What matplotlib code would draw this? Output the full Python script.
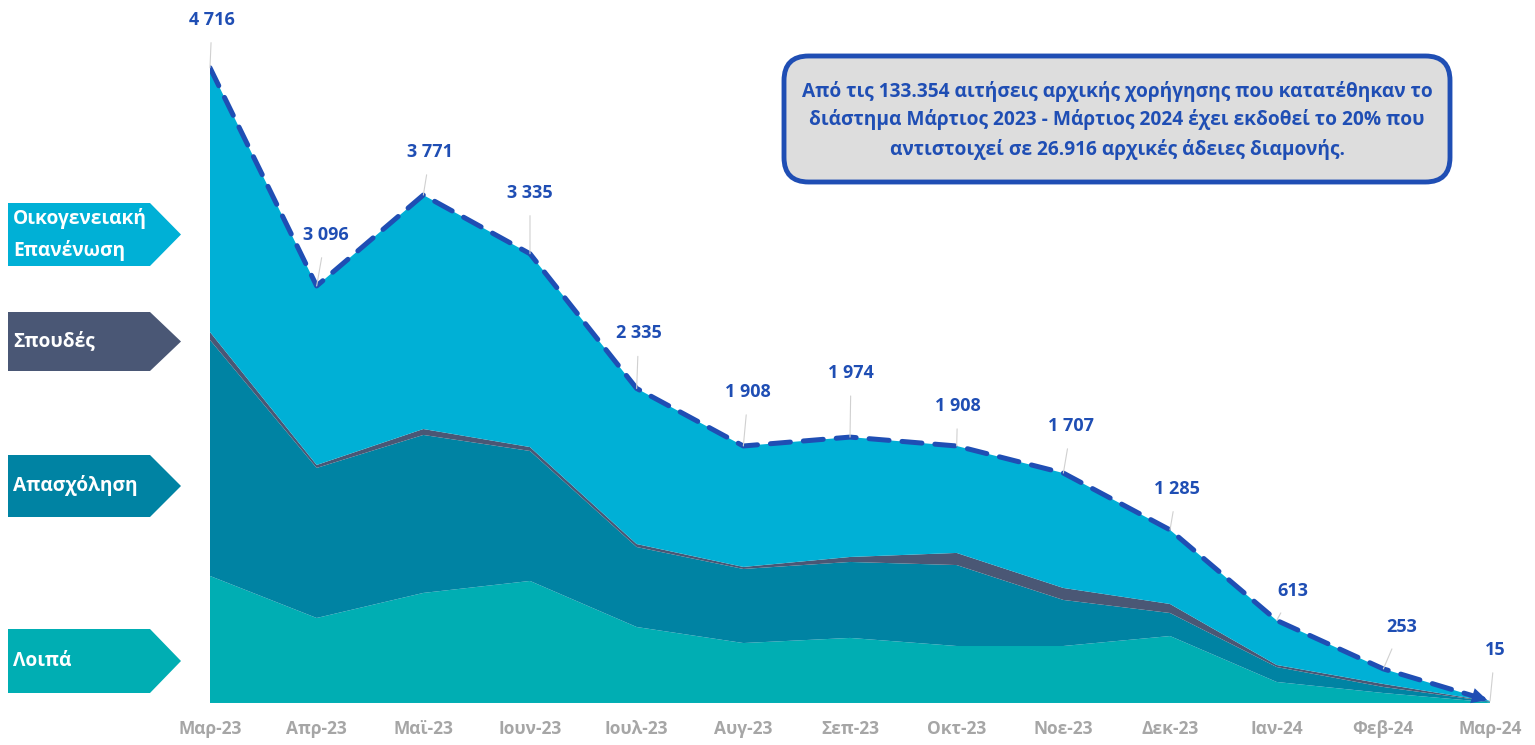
import matplotlib.pyplot as plt
from matplotlib.patches import FancyBboxPatch, Polygon

plt.rcParams['font.family'] = ['Open Sans', 'DejaVu Sans']

# Δεδομένα
months = ['Μαρ-23', 'Απρ-23', 'Μαϊ-23', 'Ιουν-23', 'Ιουλ-23', 'Αυγ-23', 'Σεπ-23',
          'Οκτ-23', 'Νοε-23', 'Δεκ-23', 'Ιαν-24', 'Φεβ-24', 'Μαρ-24']
loipa = [943, 631, 817, 906, 564, 445, 483, 423, 423, 497, 156, 74, 5]
apasxolisi = [1752, 1114, 1173, 965, 594, 550, 564, 601, 342, 171, 111, 45, 5]
spoudes = [59, 22, 44, 29, 22, 15, 37, 90, 89, 67, 15, 22, 2]
oikogeneiaki = [1962, 1329, 1737, 1435, 1155, 898, 890, 794, 853, 550, 331, 112, 3]
totals = [4716, 3096, 3771, 3335, 2335, 1908, 1974, 1908, 1707, 1285, 613, 253, 15]
total_labels = ['4 716', '3 096', '3 771', '3 335', '2 335', '1 908', '1 974',
                '1 908', '1 707', '1 285', '613', '253', '15']
series_names = ['Λοιπά', 'Απασχόληση', 'Σπουδές', 'Οικογενειακή\nΕπανένωση']

colors = ['#00AEB3', '#0083A3', '#4A5775', '#00B0D6']
blue = '#1F4EB4'

fig = plt.figure(figsize=(15.35, 7.45), dpi=100)
ax = fig.add_axes([0.1368, 0.0564, 0.8339, 0.904])

x = range(len(months))
ax.stackplot(x, loipa, apasxolisi, spoudes, oikogeneiaki, colors=colors, lw=0)

# διακεκομμένη γραμμή συνόλου
ax.plot(x, totals, color=blue, lw=3.6, dashes=(4, 2.6), dash_capstyle='round')
ax.annotate('', xy=(12, totals[-1]), xytext=(11.8, totals[-1] + 0.2 * (totals[-2] - totals[-1])),
            arrowprops=dict(arrowstyle='-|>', color=blue, mutation_scale=28, lw=0))

# ετικέτες τιμών (μετατόπιση σε pixels)
offsets = [(2, 48), (9, 51), (7, 43), (0, 61), (2, 55), (5, 54), (1, 64),
           (1, 40), (8, 47), (7, 41), (16, 29), (18, 42), (5, 51)]
for i, (t, lab) in enumerate(zip(totals, total_labels)):
    dx, dy = offsets[i]
    ax.annotate(lab, xy=(i, t), xytext=(dx * 0.72, dy * 0.72), textcoords='offset points',
                ha='center', va='center', color=blue, fontsize=13, fontweight='bold',
                arrowprops=dict(arrowstyle='-', color='#D0D0D0', lw=0.8, shrinkA=8, shrinkB=0))

ax.set_xlim(0, 12)
ax.set_ylim(0, 5000)
ax.set_xticks(list(x))
ax.set_xticklabels(months, color='#A6A6A6', fontsize=12.5, fontweight='bold')
ax.tick_params(axis='x', length=0, pad=12)
ax.set_yticks([])
for s in ax.spines.values():
    s.set_visible(False)

# πλαίσιο κειμένου
W, H = 1535, 745
box = FancyBboxPatch((784 / W, 1 - 182 / H), 666 / W, 126 / H,
                     boxstyle='round,pad=0,rounding_size=0.016', transform=fig.transFigure,
                     facecolor='#DDDDDD', edgecolor=blue, lw=3.5, mutation_aspect=W / H)
fig.patches.append(box)
fig.text(1117 / W, 1 - 120 / H,
         'Από τις 133.354 αιτήσεις αρχικής χορήγησης που κατατέθηκαν το\n'
         'διάστημα Μάρτιος 2023 - Μάρτιος 2024 έχει εκδοθεί το 20% που\n'
         'αντιστοιχεί σε 26.916 αρχικές άδειες διαμονής.',
         ha='center', va='center', color=blue, fontsize=13.8, fontweight='bold',
         linespacing=1.5)

# ετικέτες σειρών (βέλη αριστερά)
tags = [(203, 266), (312, 371), (455, 517), (629, 693)]
for name, col, (y0, y1) in zip(series_names[::-1], colors[::-1], tags):
    ym = (y0 + y1) / 2
    pts = [(8, y0), (150, y0), (181, ym), (150, y1), (8, y1)]
    fig.patches.append(Polygon([(px / W, 1 - py / H) for px, py in pts], closed=True,
                               transform=fig.transFigure, facecolor=col, edgecolor='none'))
    fig.text(13 / W, 1 - ym / H, name, ha='left', va='center', color='white',
             fontsize=13.8, fontweight='bold', linespacing=1.65)

fig.savefig('out.png', dpi=100)
